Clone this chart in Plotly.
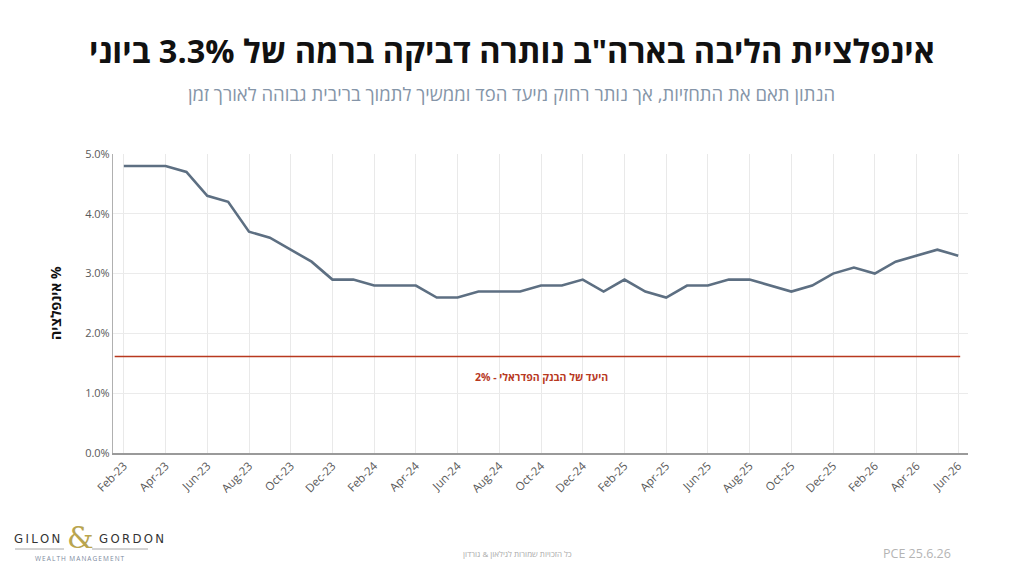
import plotly.graph_objects as go

# ---------------- data ----------------
months = ["Feb-23", "Mar-23", "Apr-23", "May-23", "Jun-23", "Jul-23", "Aug-23", "Sep-23",
          "Oct-23", "Nov-23", "Dec-23", "Jan-24", "Feb-24", "Mar-24", "Apr-24", "May-24",
          "Jun-24", "Jul-24", "Aug-24", "Sep-24", "Oct-24", "Nov-24", "Dec-24", "Jan-25",
          "Feb-25", "Mar-25", "Apr-25", "May-25", "Jun-25", "Jul-25", "Aug-25", "Sep-25",
          "Oct-25", "Nov-25", "Dec-25", "Jan-26", "Feb-26", "Mar-26", "Apr-26", "May-26",
          "Jun-26"]
core_pce = [4.8, 4.8, 4.8, 4.7, 4.3, 4.2, 3.7, 3.6, 3.4, 3.2, 2.9, 2.9, 2.8, 2.8, 2.8, 2.6,
            2.6, 2.7, 2.7, 2.7, 2.8, 2.8, 2.9, 2.7, 2.9, 2.7, 2.6, 2.8, 2.8, 2.9, 2.9, 2.8,
            2.7, 2.8, 3.0, 3.1, 3.0, 3.2, 3.3, 3.4, 3.3]
fed_target = [2.0] * len(months)
tick_labels = months[::2]
y_ticks = [0, 1, 2, 3, 4, 5]

title_text = 'אינפלציית הליבה בארה"ב נותרה דביקה ברמה של 3.3% ביוני'
subtitle_text = "הנתון תאם את התחזיות, אך נותר רחוק מיעד הפד וממשיך לתמוך בריבית גבוהה לאורך זמן"
target_label = "היעד של הבנק הפדראלי - 2%"
y_title = "אינפלציה %"
footer_center = "כל הזכויות שמורות לגילאון & גורדון"
footer_right = "PCE 25.6.26"

# ---------------- figure ----------------
FONT = "Open Sans"
idx = list(range(len(months)))

# desired plot box in window pixels; the page body adds an 8px offset
OFF = 8
plot_l, plot_r, plot_t, plot_b = 113, 968, 154, 453
pw, ph = plot_r - plot_l, plot_b - plot_t

fig = go.Figure()
fig.add_trace(go.Scatter(
    x=idx, y=core_pce, mode="lines",
    line=dict(color="#5d6f82", width=2.6),
    hoverinfo="skip", showlegend=False,
))
fig.add_trace(go.Scatter(
    x=idx, y=fed_target, mode="lines", xaxis="x2", yaxis="y2",
    line=dict(color="#b8391f", width=1.6),
    hoverinfo="skip", showlegend=False,
))

fig.update_layout(
    width=1024, height=576,
    margin=dict(l=plot_l - OFF, r=1024 - plot_r + OFF, t=plot_t - OFF, b=576 - plot_b + OFF),
    paper_bgcolor="white", plot_bgcolor="white",
    font=dict(family=FONT, color="#595959"),
    xaxis=dict(
        range=[-0.52, 40.47], automargin=False,
        tickmode="array", tickvals=idx[::2], ticktext=tick_labels,
        tickangle=-45, tickfont=dict(size=11.5, color="#595959"),
        showgrid=True, gridcolor="#e9e9e9", gridwidth=1,
        showline=True, linecolor="#9a9a9a", linewidth=1.5,
        ticks="", zeroline=False, fixedrange=True,
    ),
    yaxis=dict(
        range=[0, 5], automargin=False,
        tickmode="array", tickvals=y_ticks,
        ticktext=[f"{v:.1f}%" for v in y_ticks],
        tickfont=dict(size=11, color="#595959"),
        showgrid=True, gridcolor="#ebebeb", gridwidth=1,
        showline=True, linecolor="#b0b0b0", linewidth=1.2,
        ticks="", ticklen=0, zeroline=False,
    ),
    xaxis2=dict(overlaying="x", range=[-0.08, 40.37], visible=False),
    yaxis2=dict(overlaying="y", range=[0, 6.2], visible=False),
)

TS = "\u2009"  # thin space for letter spacing in the logo
annotations = [
    dict(text=f"<b>{title_text}</b>", showarrow=False,
         font=dict(size=32.5, color="#111111", family=FONT)),
    dict(text=subtitle_text, showarrow=False,
         font=dict(size=18.5, color="#8595a8", family=FONT)),
    dict(text=f"<b>{target_label}</b>", xref="x", yref="y", x=20, y=1.27, showarrow=False,
         font=dict(size=10.5, color="#b8391f", family=FONT)),
    dict(text=footer_center, showarrow=False,
         font=dict(size=8, color="#aaaaaa", family=FONT)),
    dict(text=footer_right, showarrow=False,
         font=dict(size=12.5, color="#b4b4b4", family=FONT)),
    dict(text=f"<b>{y_title}</b>", showarrow=False, textangle=-90,
         font=dict(size=14, color="#111111", family=FONT)),
    # logo
    dict(text=TS.join("GILON"), showarrow=False,
         font=dict(size=13, color="#333333", family="DejaVu Sans Condensed")),
    dict(text="&", showarrow=False,
         font=dict(size=30, color="#b9a54f", family="DejaVu Serif")),
    dict(text=TS.join("GORDON"), showarrow=False,
         font=dict(size=13, color="#333333", family="DejaVu Sans Condensed")),
    dict(text=TS.join("WEALTH") + "  " + TS.join("MANAGEMENT"), showarrow=False,
         font=dict(size=6.5, color="#7d8ba0", family=FONT)),
]


def px(xp):
    return (xp - plot_l) / pw


def py(yp):
    return (plot_b - yp) / ph


pos = [
    (512, 50, "center"),   # title
    (511, 94, "center"),   # subtitle
    None,                  # target label (data coords)
    (517, 553, "center"),  # footer center
    (917, 553, "center"),  # footer right
    (55, 303, "center"),   # y title
    (62, 538, "right"),    # GILON
    (80, 537, "center"),   # &
    (97, 538, "left"),     # GORDON
    (80, 558, "center"),   # wealth management
]
for a, p in zip(annotations, pos):
    if p is None:
        continue
    a.update(xref="paper", yref="paper", x=px(p[0]), y=py(p[1]),
             xanchor=p[2], yanchor="middle")

fig.update_layout(annotations=annotations)

fig.update_layout(shapes=[
    dict(type="line", xref="paper", yref="paper", x0=px(15), x1=px(64), y0=py(549), y1=py(549),
         line=dict(color="#a8a8a8", width=1)),
    dict(type="line", xref="paper", yref="paper", x0=px(92), x1=px(148), y0=py(549), y1=py(549),
         line=dict(color="#a8a8a8", width=1)),
])

fig.write_html("out.html")
